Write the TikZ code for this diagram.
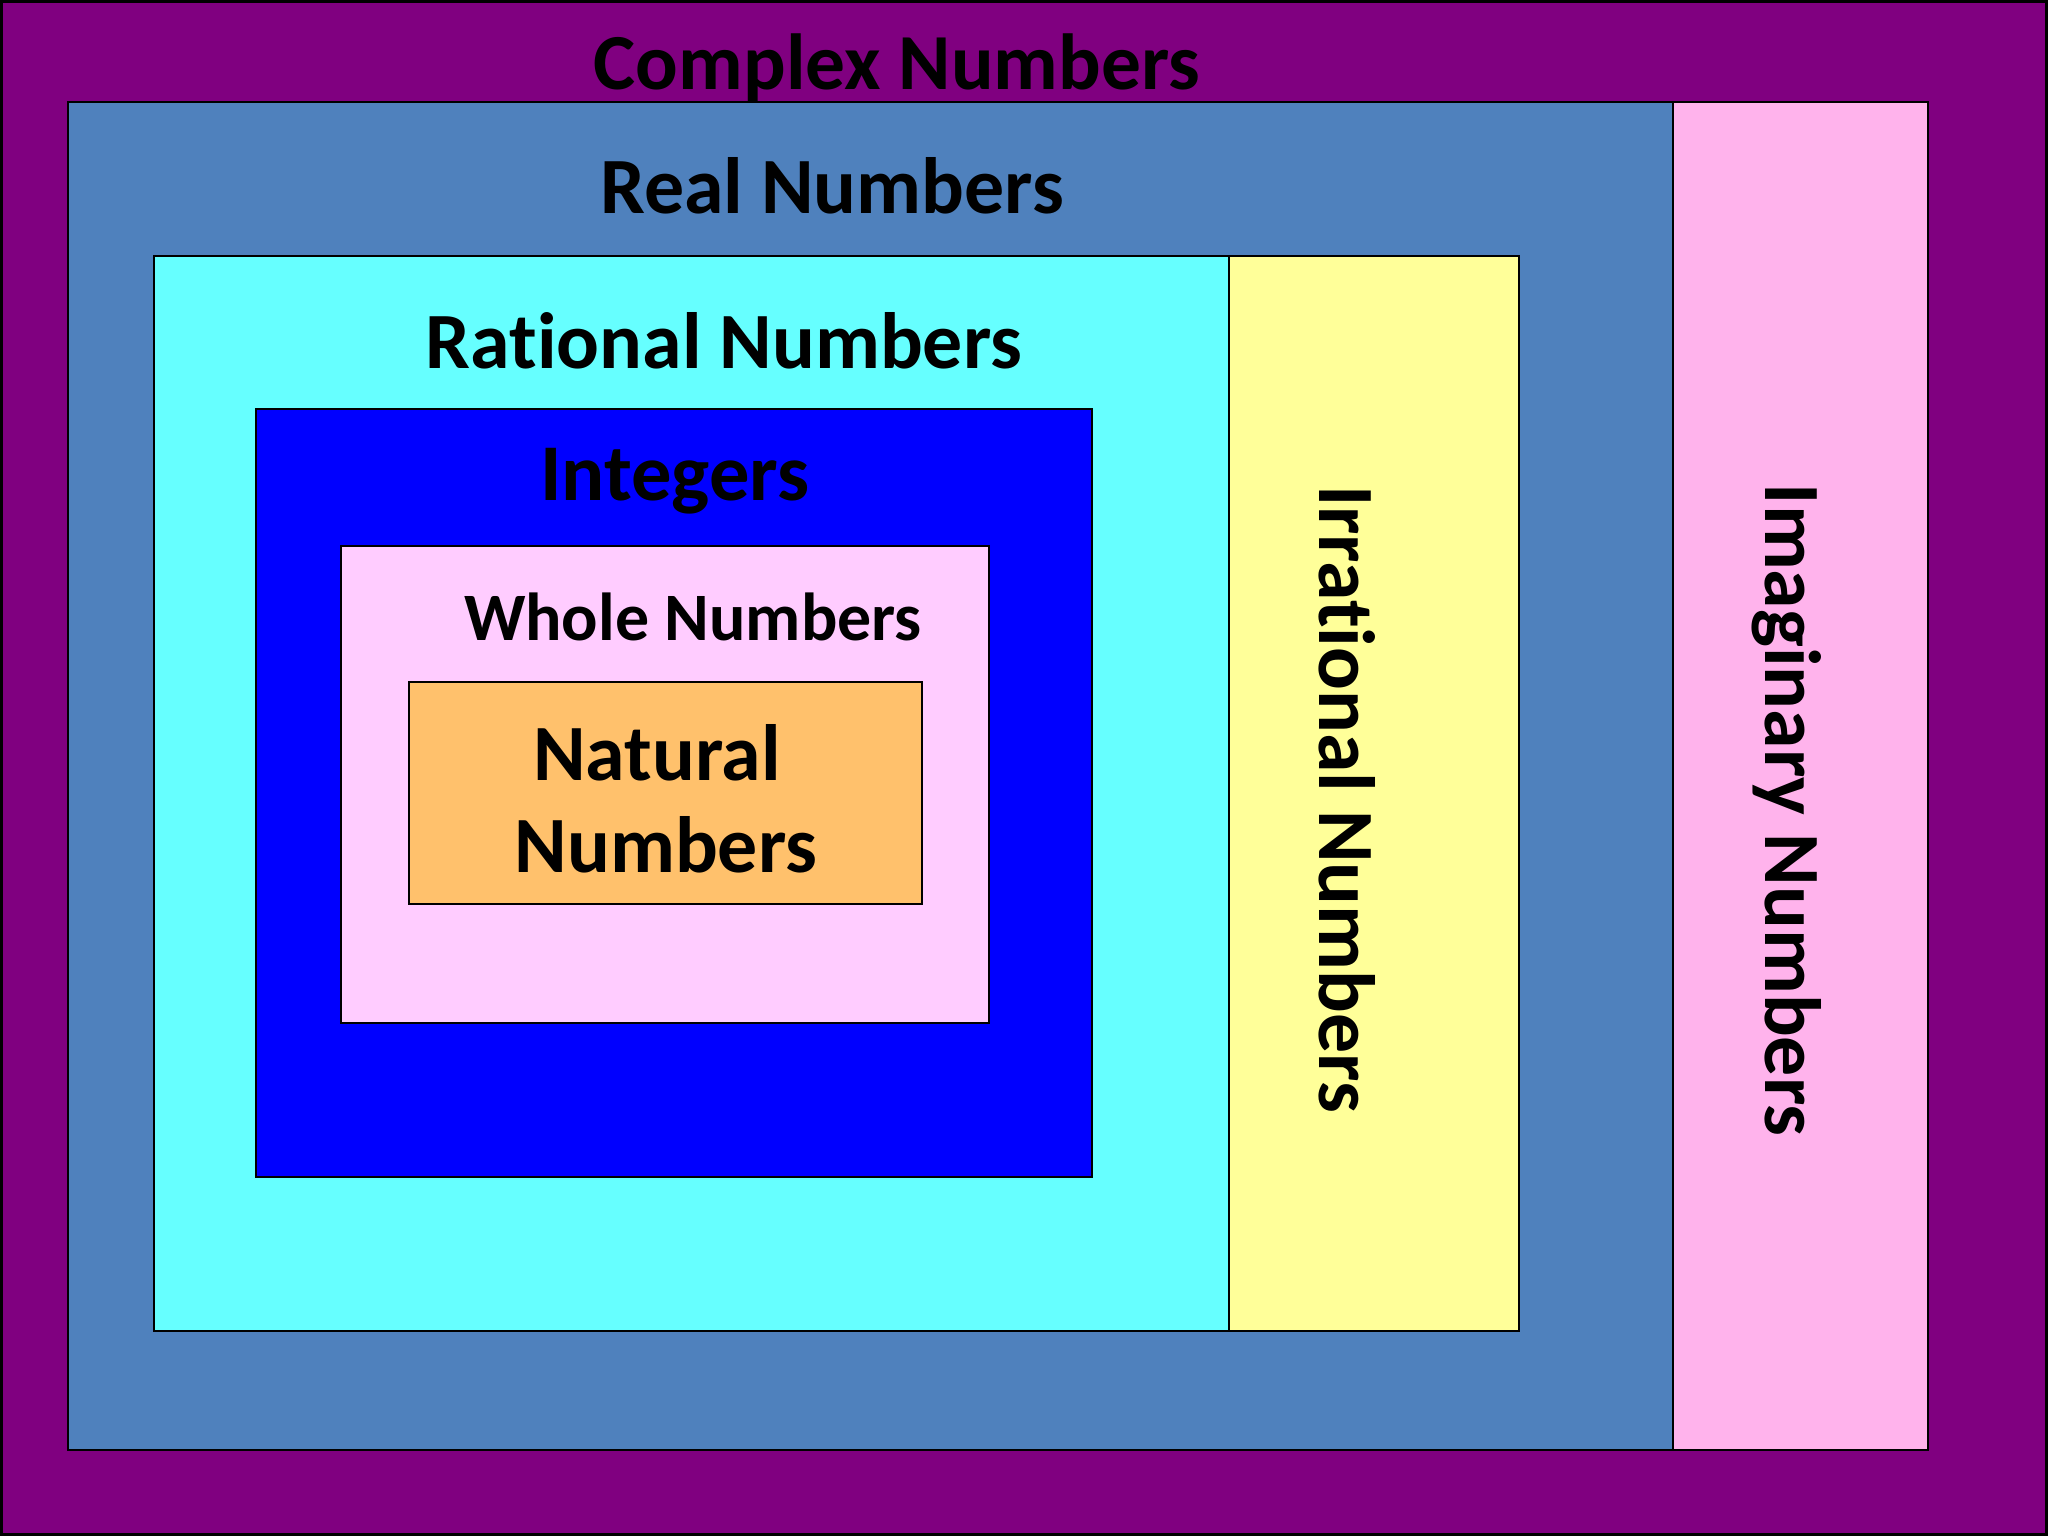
\documentclass[tikz,border=0pt]{standalone}
\usepackage{fontspec}
\setmainfont[Ligatures={NoCommon}]{Carlito}
\usepackage{tikz}

\definecolor{complexPurple}{HTML}{800080}
\definecolor{realBlue}{HTML}{4F81BD}
\definecolor{imagPink}{HTML}{FFB3EC}
\definecolor{ratCyan}{HTML}{66FFFF}
\definecolor{irrYellow}{HTML}{FFFF99}
\definecolor{intBlue}{HTML}{0000FF}
\definecolor{wholePink}{HTML}{FFCCFF}
\definecolor{natOrange}{HTML}{FFC16C}

\begin{document}
\begin{tikzpicture}[x=0.01cm, y=-0.01cm,
    setbox/.style={draw=black, line width=0.8pt},
    setlabel/.style={anchor=base, inner sep=0pt, font=\bfseries\fontsize{#1}{#1}\selectfont},
    setlabel/.default=22.7]
        % --- 1. Canvas ---
        \useasboundingbox (0,0) rectangle (2048,1536);
        \fill[complexPurple] (0,0) rectangle (2048,1536);
        \draw[line width=1.2pt] (0.5,0.5) rectangle (2047.5,1535.5);

        % --- 2. Nested sets ---
        \draw[setbox, fill=realBlue]   (68,102)   rectangle (1673,1450);
        \draw[setbox, fill=imagPink]   (1673,102) rectangle (1928,1450);
        \draw[setbox, fill=ratCyan]    (154,256)  rectangle (1229,1331);
        \draw[setbox, fill=irrYellow]  (1229,256) rectangle (1519,1331);
        \draw[setbox, fill=intBlue]    (256,409)  rectangle (1092,1177);
        \draw[setbox, fill=wholePink]  (341,546)  rectangle (989,1023);
        \draw[setbox, fill=natOrange]  (409,682)  rectangle (922,904);

        % --- 3. Labels ---
        \node[setlabel=22.6] (complex)  at (897,89)  {Complex Numbers};
        \node[setlabel]      (real)     at (832,213) {Real Numbers};
        \node[setlabel]      (rational) at (724,368) {Rational Numbers};
        \node[setlabel=22.9] (integers) at (675,500) {Integers};
        \node[setlabel=19.3] (whole)    at (693,640) {Whole Numbers};
        \node[setlabel]      (natural)  at (657,780) {Natural};
        \node[setlabel]      (naturalB) at (666,872) {Numbers};
        \node[setlabel, rotate=-90] (irrational) at (1319,799)  {Irrational Numbers};
        \node[setlabel, rotate=-90] (imaginary)  at (1765,810)  {Imaginary Numbers};
    \end{tikzpicture}
\end{document}
